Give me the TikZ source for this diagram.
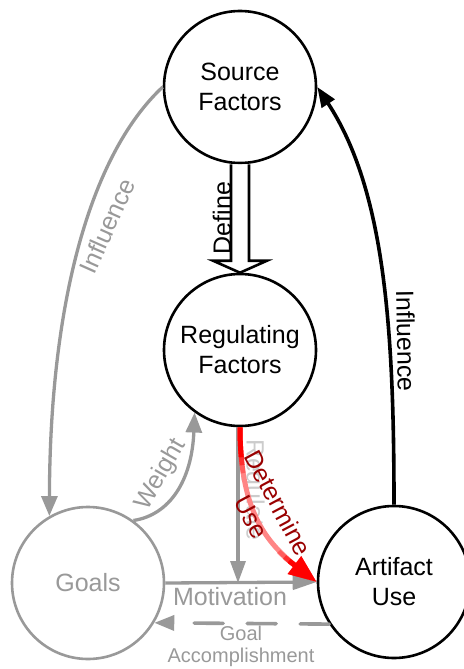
\documentclass[tikz,border=0pt]{standalone}
\usepackage{fontspec}
\setmainfont{Liberation Sans}
\usetikzlibrary{arrows.meta,calc}

\definecolor{linegray}{HTML}{999999}
\definecolor{palegray}{HTML}{CCCCCC}
\definecolor{deepred}{HTML}{990000}
\definecolor{palered}{HTML}{FF8585}

\tikzset{
  factor/.style={circle, draw=black, line width=2.6pt, fill=white,
    minimum size=152pt, inner sep=0pt, align=center,
    font=\fontsize{25}{30}\selectfont},
  lbl/.style={font=\fontsize{25}{30}\selectfont, inner sep=0pt, align=center},
  smalllbl/.style={font=\fontsize{20}{22}\selectfont, inner sep=0pt, align=center},
  grayline/.style={draw=linegray, line width=3.3pt},
  graytip/.style={-{Triangle[length=20pt,width=16pt]}},
  blockarrow/.style={draw=black, fill=white, line width=2.6pt, line join=miter},
}

\begin{document}
\begin{tikzpicture}[x=1pt,y=-1pt]
\useasboundingbox (0,0) rectangle (463,669);

% the four factors
\node[factor] (src) at (240,87) {Source\\Factors};
\node[factor] (reg) at (240,350) {Regulating\\Factors};
\node[factor, draw=linegray, text=linegray] (goals) at (88,583) {Goals};
\node[factor] (use) at (394,582) {Artifact\\Use};

% Define: hollow block arrow between source and regulating factors
\draw[blockarrow]
  ($(src.south)+(-9,0)$) -- ($(reg.north)+(-9,-12)$) -- ($(reg.north)+(-27,-12)$)
  -- (reg.north) -- ($(reg.north)+(27,-12)$) -- ($(reg.north)+(9,-12)$)
  -- ($(src.south)+(9,0)$);
\node[lbl, rotate=90] (lbldefine) at (222,218) {Define};

% Influence (source -> goals)
\draw[grayline, graytip] (src.west) .. controls (95,150) and (50,290) .. (goals.120);
\node[lbl, text=linegray, rotate=66] (lblinfgoals) at (107,226) {Influence};

% Weight (goals -> regulating)
\draw[grayline, graytip] (goals.54) .. controls (170,515) and (192,480) .. (reg.234);
\node[lbl, text=linegray, rotate=60] (lblweight) at (161,475) {Weight};

% Influence (artifact use -> source)
\draw[line width=3.6pt, -{Triangle[length=20pt,width=15pt]}]
  (use.north) .. controls (394,330) and (385,190) .. (src.east);
\node[lbl, rotate=-89] (lblinfsrc) at (406,341) {Influence};

% Motivation (goals -> artifact use)
\draw[grayline, -{Triangle[length=24pt,width=15pt]}] (goals.east) -- (use.west);
\node[lbl, text=linegray, anchor=base] (lblmotiv) at (230,605) {Motivation};

% Regulate (regulating -> motivation)
\path ($(reg.south)+(-2,0)$) coordinate (regtop);
\coordinate (regfoot) at (regtop |- goals.east);
\draw[grayline, -{Triangle[length=22pt,width=15pt]}] (regtop) -- (regfoot);
\node[lbl, text=palegray, rotate=-90] (lblregulate) at (253,490) {Regulate};

% Determine Use (regulating -> artifact use), red fading in the middle
\draw[palered, line width=5pt, shorten >=14pt]
  (reg.south) .. controls (240,520) and (272,548) .. (use.west);
\foreach \len/\op in {46/0.3, 38/0.5, 30/1} {
  \draw[red, line width=5pt, draw opacity=\op, dash pattern=on \len pt off 2000pt]
    (reg.south) .. controls (240,520) and (272,548) .. (use.west);
}
\foreach \len/\op in {22/0.3, 14/0.5, 8/1} {
  \draw[red, line width=5pt, draw opacity=\op, dash pattern=on \len pt off 2000pt,
        {Triangle[length=28pt,width=21pt]}-]
    (use.west) .. controls (272,548) and (240,520) .. (reg.south);
}
\node[lbl, text=deepred, rotate=-62] (lbldetermine) at (265,510) {Determine\\Use};

% Goal Accomplishment (artifact use -> goals), dashed
\draw[grayline, line width=3.6pt, line cap=round, dash pattern=on 29pt off 24pt,
      -{Triangle[length=20pt,width=15pt]}]
  (use.213) -- (goals.-31);
\node[smalllbl, text=linegray, anchor=base] (lblgoal) at (241,640) {Goal};
\node[smalllbl, text=linegray, anchor=base] (lblaccomp) at (241,662) {Accomplishment};
\end{tikzpicture}
\end{document}
